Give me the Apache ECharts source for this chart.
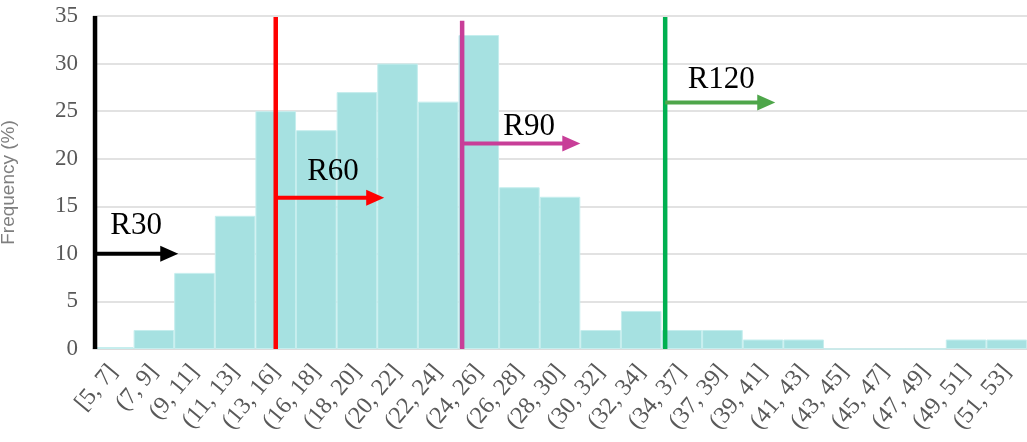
<!DOCTYPE html>
<html>
<head>
<meta charset="utf-8">
<script src="https://cdn.jsdelivr.net/npm/echarts@6/dist/echarts.min.js"></script>
<style>html,body{margin:0;padding:0;background:#fff}#chart{width:1027px;height:442px}</style>
</head>
<body>
<div id="chart"></div>
<script>
const categories = ['[5, 7]','(7, 9]','(9, 11]','(11, 13]','(13, 16]','(16, 18]','(18, 20]','(20, 22]','(22, 24]','(24, 26]','(26, 28]','(28, 30]','(30, 32]','(32, 34]','(34, 37]','(37, 39]','(39, 41]','(41, 43]','(43, 45]','(45, 47]','(47, 49]','(49, 51]','(51, 53]'];
const frequency = [0.2, 2, 8, 14, 25, 23, 27, 30, 26, 33, 17, 16, 2, 4, 2, 2, 1, 1, 0, 0, 0, 1, 1];
const yTicks = {min: 0, max: 35, interval: 5};

// Threshold markers (x in bin units along the category axis)
const markerNames = ['R30', 'R60', 'R90', 'R120'];
const markerX = [0.05, 4.5, 9.09, 14.09];
const markerTop = [35, 34.9, 34.5, 34.9];
const arrowY = [10, 15.9, 21.6, 25.9];
const arrowEnd = [2.1, 7.17, 12.0, 16.8];
const labelX = [1.06, 5.91, 10.74, 15.47];
const labelY = [12.96, 18.65, 23.4, 28.3];
const lineColors = ['#000000', '#ff0000', '#c83e98', '#00b050'];
const arrowColors = ['#000000', '#ff0000', '#c83e98', '#4ea64a'];

const markerData = markerNames.map((n, i) => [markerX[i], markerTop[i], arrowY[i], arrowEnd[i], labelX[i], labelY[i]]);

const chart = echarts.init(document.getElementById('chart'));
chart.setOption({
  animation: false,
  grid: {left: 93, right: 0, top: 16, bottom: 93, containLabel: false, outerBoundsMode: 'none'},
  xAxis: [{
    type: 'category',
    data: categories,
    axisLine: {lineStyle: {color: '#d9d9d9', width: 1.5}},
    axisTick: {show: false},
    axisLabel: {rotate: 50, interval: 0, color: '#595959', fontFamily: 'Liberation Serif', fontSize: 24, margin: 19}
  }, {
    type: 'value', min: 0, max: categories.length, show: false
  }],
  yAxis: {
    type: 'value',
    min: yTicks.min, max: yTicks.max, interval: yTicks.interval,
    name: 'Frequency (%)',
    nameLocation: 'middle',
    nameGap: 75,
    nameTextStyle: {color: '#7f7f7f', fontFamily: 'Liberation Sans', fontSize: 19},
    axisLine: {show: false},
    axisTick: {show: false},
    axisLabel: {color: '#595959', fontFamily: 'Liberation Serif', fontSize: 23, margin: 15},
    splitLine: {lineStyle: {color: '#d9d9d9', width: 1.5}}
  },
  series: [{
    type: 'bar',
    data: frequency,
    barCategoryGap: '0%',
    z: 2,
    itemStyle: {color: '#a6e1e1', borderColor: '#c6eeee', borderWidth: 1}
  }, {
    type: 'custom',
    xAxisIndex: 1,
    yAxisIndex: 0,
    clip: false,
    z: 10,
    data: markerData,
    renderItem: function (params, api) {
      const i = params.dataIndex;
      const x = api.value(0), top = api.value(1), ay = api.value(2), ae = api.value(3), lx = api.value(4), ly = api.value(5);
      const p0 = api.coord([x, 0]), p1 = api.coord([x, top]);
      const a0 = api.coord([x, ay]), a1 = api.coord([ae, ay]);
      const lp = api.coord([lx, ly]);
      const head = 18, hw = 8;
      return {
        type: 'group',
        children: [
          {type: 'line', shape: {x1: p0[0], y1: p0[1], x2: p1[0], y2: p1[1]}, style: {stroke: lineColors[i], lineWidth: 4.5}},
          {type: 'line', shape: {x1: a0[0], y1: a0[1], x2: a1[0] - head + 1, y2: a1[1]}, style: {stroke: arrowColors[i], lineWidth: 4}},
          {type: 'polygon', shape: {points: [[a1[0] - head, a1[1] - hw], [a1[0], a1[1]], [a1[0] - head, a1[1] + hw]]}, style: {fill: arrowColors[i]}},
          {type: 'text', x: lp[0], y: lp[1], style: {text: markerNames[i], fill: '#000', font: '31px "Liberation Serif"', align: 'center', verticalAlign: 'middle'}}
        ]
      };
    }
  }]
});
</script>
</body>
</html>
